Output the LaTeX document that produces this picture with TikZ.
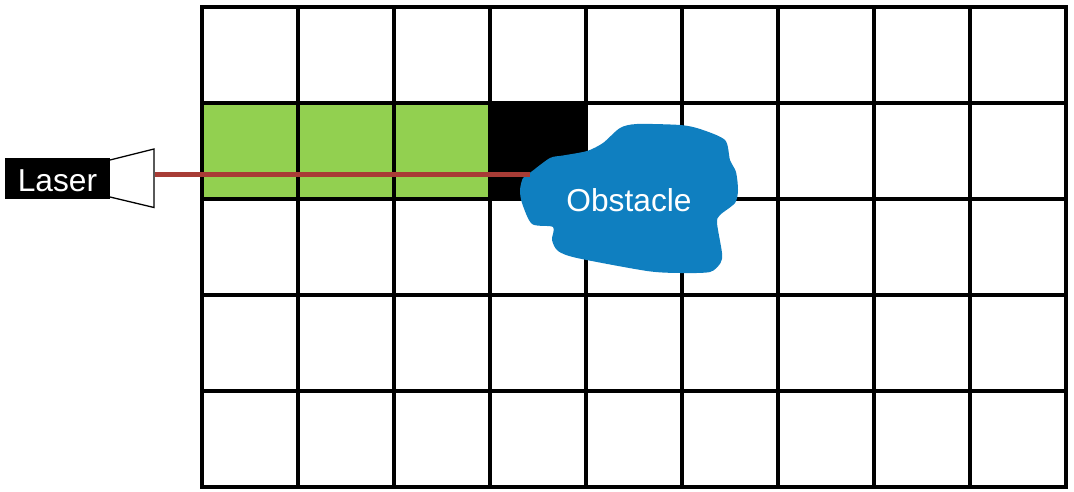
\documentclass[tikz,border=0pt]{standalone}
\usepackage{fontspec}
\setmainfont{Liberation Sans}
\definecolor{cellgreen}{HTML}{92D050}
\definecolor{obstblue}{HTML}{0F7FC0}
\definecolor{beamred}{HTML}{A83C36}
\tikzset{
  gridline/.style={line width=3.1bp,black,line cap=rect},
  labeltext/.style={text=white,font=\fontsize{31.7bp}{36bp}\selectfont,inner sep=0pt},
  beam/.style={line width=4.6bp,beamred},
  horn/.style={draw=black,fill=white,line width=1.3bp,line join=miter},
}
\begin{document}
\begin{tikzpicture}[x=1bp,y=-1bp]
\useasboundingbox (0,0) rectangle (1074,492);
% cells
\fill[cellgreen] (202,103) rectangle (490,199);
\fill[black] (490,103) rectangle (586,199);
% grid
\foreach \gx in {202,298,...,1066} \draw[gridline] (\gx,7) -- (\gx,487);
\foreach \gy in {7,103,...,487} \draw[gridline] (202,\gy) -- (1066,\gy);
% laser
\node[fill=black,minimum width=105bp,minimum height=41bp,inner sep=0pt,anchor=north west] (laser) at (5,158) {};
\node[labeltext,anchor=base] (lasertext) at (57.5,191.5) {Laser};
\draw[horn] (110,160) -- (154,149) -- (154,207.5) -- (110,197);
\coordinate (hornmouth) at (155,174.5);
% obstacle
\fill[obstblue] plot[smooth cycle,tension=0.45] coordinates {
 (520,190) (523,178) (531,172) (550,158) (563,155.5) (587,151) (603,143)
 (620,128) (637,124) (680,125) (700,129) (725,140) (730,160) (736,172)
 (738,190) (735,203) (720,215) (717,223) (722,253) (720.5,263) (710,272)
 (680,273) (647,271) (577,258) (558,251) (552,240) (553,227) (532,224) (522,203)};
\coordinate (hit) at (529.5,174.5);
\draw[beam] (hornmouth) -- (hit);
\node[labeltext,anchor=base] (obstacle) at (629,212) {Obstacle};
\end{tikzpicture}
\end{document}
